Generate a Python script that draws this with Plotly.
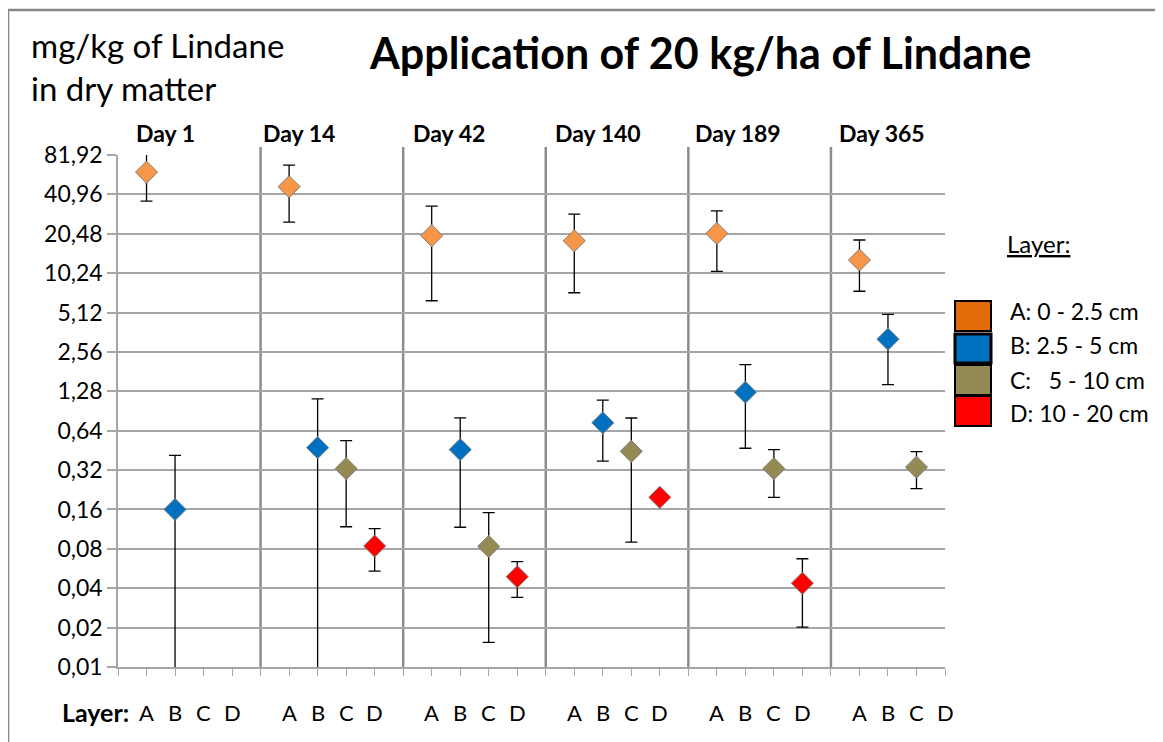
import plotly.graph_objects as go

# Dados: média e desvio padrão (mg/kg) por dia e camada
days = ["Day 1", "Day 14", "Day 42", "Day 140", "Day 189", "Day 365"]
layers = ["A", "B", "C", "D"]
layer_names = ["A: 0 - 2.5 cm", "B: 2.5 - 5 cm", "C:   5 - 10 cm", "D: 10 - 20 cm"]

a_mean = [60.6, 46.9, 19.8, 18.1, 20.6, 12.9]
a_sd = [24.2, 21.75, 13.5, 10.85, 10.05, 5.45]
b_mean = [0.16, 0.475, 0.459, 0.735, 1.26, 3.2]
b_sd = [0.255, 0.645, 0.342, 0.36, 0.79, 1.76]
c_mean = [None, 0.328, 0.0834, 0.445, 0.328, 0.337]
c_sd = [None, 0.21, 0.068, 0.355, 0.13, 0.106]
d_mean = [None, 0.084, 0.049, 0.198, 0.0437, None]
d_sd = [None, 0.030, 0.015, 0.0, 0.0235, None]

y_ticks = [0.01, 0.02, 0.04, 0.08, 0.16, 0.32, 0.64, 1.28, 2.56, 5.12, 10.24, 20.48, 40.96, 81.92]

# Cores
MARKER_COLORS = ["#F79646", "#0070C0", "#948A54", "#FF0000"]
LEGEND_COLORS = ["#E36C09", "#0070C0", "#948A54", "#FF0000"]
GRID = "#A6A6A6"
SEP = "#8C8C8C"
FONT = "Lato, Carlito, sans-serif"

# Geometria (px da imagem de referência); a página tem 8px de margem no body
OFF = 8
W, H = 1163 - OFF, 742 - OFF
L, R, T, B = 118 - OFF, 218, 155 - OFF, 75
PW, PH = W - L - R, H - T - B


def px_x(p):
    return (p - OFF - L) / PW


def px_y(p):
    return (H - B - (p - OFF)) / PH


fig = go.Figure()

series = [(a_mean, a_sd), (b_mean, b_sd), (c_mean, c_sd), (d_mean, d_sd)]
for k, (means, sds) in enumerate(series):
    xs = [i * 5 + k + 1 for i in range(len(days))]
    fig.add_trace(go.Scatter(
        x=xs, y=means, mode="markers", name=layer_names[k],
        marker=dict(symbol="diamond", size=17, color=MARKER_COLORS[k],
                    line=dict(color="#7F7F7F", width=1)),
        error_y=dict(type="data", array=[s if s is not None else 0 for s in sds],
                     symmetric=True, color="#000000", thickness=1.3, width=6),
        showlegend=False,
    ))

shapes = []
# Separadores entre dias
for i in range(1, len(days)):
    shapes.append(dict(type="line", xref="x", yref="paper", x0=i * 5, x1=i * 5,
                       y0=0, y1=1 + 8 / PH, line=dict(color=SEP, width=2.5), layer="below"))

# Moldura externa
shapes.append(dict(type="rect", xref="paper", yref="paper",
                   x0=px_x(8), x1=px_x(1163 + 20), y0=px_y(742 + 20), y1=px_y(10),
                   line=dict(color="#878787", width=2.5)))

# Legenda manual
legend_rows = [(301, 331), (334, 363), (365, 395), (396, 426)]
legend_text_y = [311, 345, 380, 413]
for k, (y0, y1) in enumerate(legend_rows):
    shapes.append(dict(type="rect", xref="paper", yref="paper",
                       x0=px_x(955), x1=px_x(991), y0=px_y(y1), y1=px_y(y0),
                       fillcolor=LEGEND_COLORS[k],
                       line=dict(color="#000000", width=3 if k == 1 else 2)))

annotations = []
annotations.append(dict(text="<b>Application of 20 kg/ha of Lindane</b>", xref="paper", yref="paper",
                        x=px_x(700), y=px_y(52), xanchor="center", yanchor="middle",
                        showarrow=False, font=dict(size=43, color="#000000", family=FONT)))
annotations.append(dict(text="mg/kg of Lindane", xref="paper", yref="paper",
                        x=px_x(29), y=px_y(45), xanchor="left", yanchor="middle",
                        showarrow=False, font=dict(size=33, color="#000000", family=FONT)))
annotations.append(dict(text="in dry matter", xref="paper", yref="paper",
                        x=px_x(29), y=px_y(88), xanchor="left", yanchor="middle",
                        showarrow=False, font=dict(size=33, color="#000000", family=FONT)))

day_offsets = [1.65, 1.35, 1.6, 1.83, 1.74, 1.79]
for i, d in enumerate(days):
    annotations.append(dict(text="<b>%s</b>" % d, xref="x", yref="paper",
                            x=i * 5 + day_offsets[i], y=px_y(133), xanchor="center", yanchor="middle",
                            showarrow=False, font=dict(size=23, color="#000000", family=FONT)))

for i in range(len(days)):
    for k, lab in enumerate(layers):
        annotations.append(dict(text=lab, xref="x", yref="paper",
                                x=i * 5 + k + 1, y=px_y(712), xanchor="center", yanchor="middle",
                                showarrow=False, font=dict(size=22, color="#000000", family=FONT)))
annotations.append(dict(text="<b>Layer:</b>", xref="paper", yref="paper",
                        x=px_x(131), y=px_y(712), xanchor="right", yanchor="middle",
                        showarrow=False, font=dict(size=25, color="#000000", family=FONT)))

annotations.append(dict(text="<u>Layer:</u>", xref="paper", yref="paper",
                        x=px_x(1038), y=px_y(243), xanchor="center", yanchor="middle",
                        showarrow=False, font=dict(size=24, color="#000000", family=FONT)))
for k, name in enumerate(layer_names):
    annotations.append(dict(text=name.replace(" ", "&nbsp;") if k == 2 else name,
                            xref="paper", yref="paper",
                            x=px_x(1008), y=px_y(legend_text_y[k]), xanchor="left", yanchor="middle",
                            showarrow=False, font=dict(size=23, color="#000000", family=FONT)))

fig.update_layout(
    width=W, height=H,
    margin=dict(l=L, r=R, t=T, b=B, pad=0),
    paper_bgcolor="#FFFFFF", plot_bgcolor="#FFFFFF",
    font=dict(family=FONT, color="#000000"),
    shapes=shapes, annotations=annotations,
    xaxis=dict(range=[0, 29], showgrid=False, zeroline=False, showline=True,
               linecolor=GRID, linewidth=1.5, ticks="outside", ticklen=7,
               tickcolor=GRID, tickwidth=1.3, tickvals=list(range(30)),
               showticklabels=False, fixedrange=True),
    yaxis=dict(type="log", range=[-2, 1.91339], tickvals=y_ticks,
               ticktext=[("%g" % v).replace(".", ",") if v < 1 else ("%.2f" % v).replace(".", ",")
                         for v in y_ticks],
               showgrid=True, gridcolor=GRID, gridwidth=1.5,
               showline=True, linecolor=GRID, linewidth=1.5,
               ticks="outside", ticklen=9, tickcolor=GRID, tickwidth=1.5,
               tickfont=dict(size=23, color="#000000", family=FONT),
               zeroline=False, fixedrange=True),
)

fig.write_html("out.html")
